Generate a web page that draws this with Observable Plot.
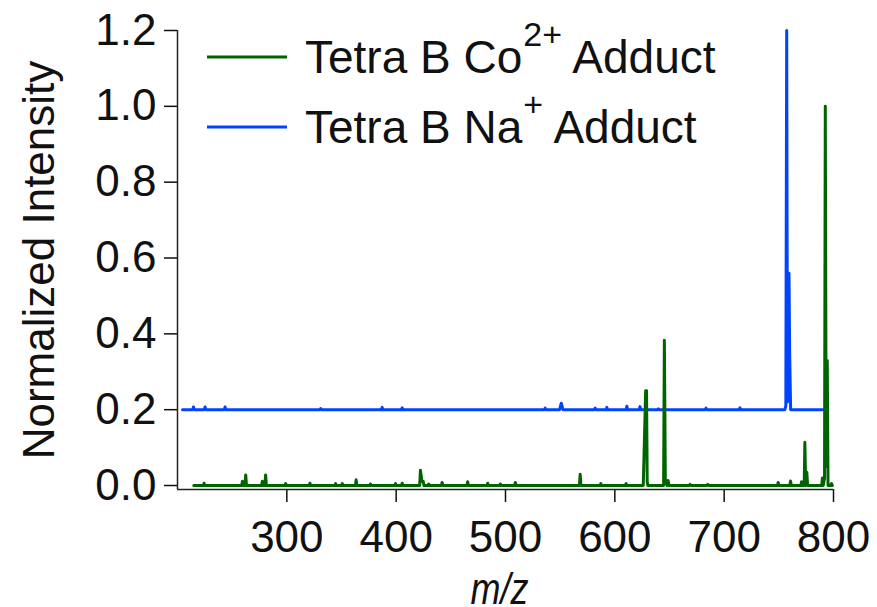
<!DOCTYPE html>
<html>
<head>
<meta charset="utf-8">
<script src="https://cdn.jsdelivr.net/npm/d3@7"></script>
<script src="https://cdn.jsdelivr.net/npm/@observablehq/plot@0.6"></script>
<style>
  html, body { margin: 0; padding: 0; background: #fff; }
  #chart { width: 877px; height: 607px; }
</style>
</head>
<body>
<div id="chart"></div>
<script>
// ---- data ----
// Tetra B Co2+ adduct spectrum: [m/z, normalized intensity]
const coSpectrum = [
  [214.9,0],[223.6,0],[224.3,0.006],[225.0,0],
  [258.7,0],[259.4,0.011],[260.1,0],[261.7,0],[262.4,0.028],[263.1,0],
  [276.9,0],[277.6,0.011],[278.3,0],[279.9,0],[280.6,0.028],[281.3,0],
  [298.2,0],[298.9,0.005],[299.6,0],[320.4,0],[321.1,0.006],[321.8,0],
  [343.9,0],[344.6,0.005],[345.3,0],[350.0,0],[350.7,0.005],[351.4,0],
  [362.7,0],[363.4,0.015],[364.1,0],[375.8,0],[376.5,0.004],[377.2,0],
  [398.7,0],[399.4,0.005],[400.1,0],[404.8,0],[405.5,0.006],[406.2,0],
  [421.5,0],[422.2,0.040],[423.6,0.011],[424.7,0.011],[425.4,0],
  [429.1,0],[429.8,0.004],[430.5,0],[441.3,0],[442.0,0.008],[442.7,0],
  [464.7,0],[465.4,0.010],[466.1,0],[483.0,0],[483.7,0.006],[484.4,0],
  [494.6,0],[495.3,0.004],[496.0,0],[508.3,0],[509.0,0.008],[509.7,0],
  [567.6,0],[568.3,0.030],[569.0,0],[586.5,0],[587.2,0.005],[587.9,0],
  [609.6,0],[610.3,0.005],[611.0,0],
  [626.0,0],[628.2,0.25],[629.0,0.25],[629.6,0.01],[630.2,0],
  [644.6,0],[645.3,0.383],[646.2,0.01],[647.8,0],[648.7,0.013],[649.6,0],
  [668.1,0],[668.8,0.003],[669.5,0],[684.3,0],[685.0,0.003],[685.7,0],
  [748.7,0],[749.4,0.008],[750.1,0],[760.0,0],[760.7,0.012],[761.4,0],
  [770.1,0],[770.8,0.010],[771.5,0],[773.2,0],[773.8,0.114],[774.6,0],
  [775.6,0.035],[776.3,0],
  [789.2,0],[789.9,0.020],[790.6,0],[791.8,0.02],[792.5,1.0],[793.3,0.05],
  [794.3,0.33],[795.0,0],[797.5,0],[798.2,0.005],[798.9,0]
];
// Tetra B Na+ adduct spectrum: [m/z, normalized intensity] (plotted offset by naOffset)
const naSpectrum = [
  [204.6,0],[213.9,0],[214.6,0.007],[215.3,0],[224.5,0],[225.2,0.007],[225.9,0],
  [242.8,0],[243.5,0.007],[244.2,0],[330.2,0],[330.9,0.003],[331.6,0],
  [386.5,0],[387.2,0.006],[387.9,0],[404.8,0],[405.5,0.005],[406.2,0],
  [535.6,0],[536.3,0.004],[537.0,0],[549.5,0],[551.0,0.017],[552.5,0],
  [581.3,0],[582.0,0.004],[582.7,0],[592.0,0],[592.7,0.006],[593.4,0],
  [610.3,0],[611.0,0.009],[611.7,0],[622.3,0],[623.0,0.008],[623.7,0],
  [639.1,0],[639.8,0.002],[640.5,0],[682.7,0],[683.4,0.004],[684.1,0],
  [713.7,0],[714.4,0.005],[715.1,0],
  [755.5,0],[756.4,0.01],[757.2,1.0],[757.9,0.02],[759.3,0.36],[759.9,0.15],[760.8,0],
  [790.4,0]
];
const naOffset = 0.2;

const seriesNames = ["Tetra B Co", "Tetra B Na"];
const seriesSup = ["2+", "+"];
const seriesSuffix = " Adduct";
const seriesColors = ["#006400", "#0044ff"];

const xTicks = [300, 400, 500, 600, 700, 800];
const yTicks = [0, 0.2, 0.4, 0.6, 0.8, 1.0, 1.2];
const xDomain = [200, 800];
const yDomain = [-0.0105, 1.2];
const xLabel = "m/z";
const yLabel = "Normalized Intensity";

// ---- chart ----
const FONT = "'Liberation Sans', Arial, Helvetica, sans-serif";
const chart = Plot.plot({
  width: 877,
  height: 607,
  marginLeft: 177,
  marginRight: 44,
  marginTop: 30,
  marginBottom: 118,
  style: { fontFamily: FONT, fontSize: "44px", color: "#111", background: "#fff", overflow: "visible" },
  x: { domain: xDomain },
  y: { domain: yDomain },
  marks: [
    Plot.axisX({ ticks: xTicks, tickSize: 13, tickPadding: 18, strokeWidth: 1.5, fontSize: 44,
      label: xLabel, labelAnchor: "center", labelOffset: 114 }),
    Plot.axisY({ ticks: yTicks, tickFormat: d3.format(".1f"), tickSize: 13, tickPadding: 8, strokeWidth: 1.5, fontSize: 44,
      label: yLabel, labelAnchor: "center", labelOffset: 155 }),
    Plot.ruleX([xDomain[0]], { stroke: "#222", strokeWidth: 1.5 }),
    Plot.ruleY([yDomain[0]], { stroke: "#222", strokeWidth: 1.5 }),
    Plot.line(naSpectrum, { x: d => d[0], y: d => d[1] + naOffset, stroke: seriesColors[1], strokeWidth: 3, curve: "linear" }),
    Plot.line(coSpectrum, { x: d => d[0], y: d => d[1], stroke: seriesColors[0], strokeWidth: 3, curve: "linear" })
  ]
});

// axis labels without arrows; italic m/z
chart.querySelectorAll('g[aria-label="x-axis label"] text').forEach(t => {
  t.textContent = xLabel;
  t.setAttribute("font-style", "italic");
  t.setAttribute("textLength", 58);
  t.setAttribute("lengthAdjust", "spacingAndGlyphs");
  t.setAttribute("dx", -6);
});
chart.querySelectorAll('g[aria-label="y-axis label"] text').forEach(t => {
  t.textContent = yLabel;
});

// legend inside plot area (top-left)
const ns = "http://www.w3.org/2000/svg";
const leg = document.createElementNS(ns, "g");
leg.setAttribute("font-family", FONT);
leg.setAttribute("text-anchor", "start");
seriesNames.forEach((name, i) => {
  const cy = 57 + i * 70;
  const ln = document.createElementNS(ns, "line");
  ln.setAttribute("x1", 207); ln.setAttribute("x2", 287);
  ln.setAttribute("y1", cy); ln.setAttribute("y2", cy);
  ln.setAttribute("stroke", seriesColors[i]); ln.setAttribute("stroke-width", 3);
  leg.appendChild(ln);
  const tx = document.createElementNS(ns, "text");
  tx.setAttribute("x", 305); tx.setAttribute("y", cy + 16);
  tx.setAttribute("text-anchor", "start");
  tx.setAttribute("font-size", 46); tx.setAttribute("fill", "#111");
  const a = document.createElementNS(ns, "tspan"); a.textContent = name;
  const b = document.createElementNS(ns, "tspan"); b.textContent = seriesSup[i];
  b.setAttribute("font-size", 34); b.setAttribute("dy", -27); b.setAttribute("dx", 1);
  const c = document.createElementNS(ns, "tspan"); c.textContent = seriesSuffix;
  c.setAttribute("dy", 27);
  tx.appendChild(a); tx.appendChild(b); tx.appendChild(c);
  leg.appendChild(tx);
});
chart.appendChild(leg);

document.getElementById("chart").appendChild(chart);
</script>
</body>
</html>
